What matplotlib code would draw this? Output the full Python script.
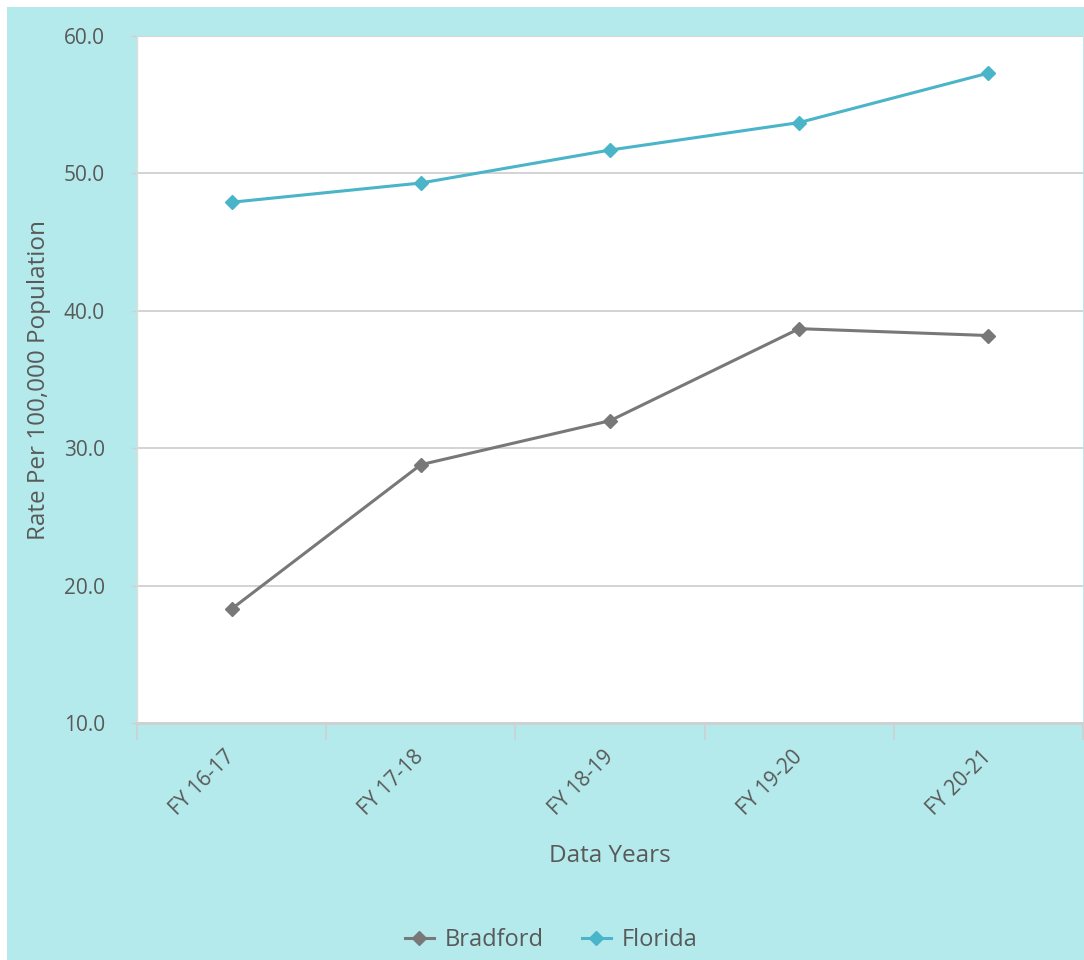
import matplotlib
matplotlib.use("Agg")
import matplotlib.pyplot as plt
from matplotlib.patches import Rectangle
import numpy as np

plt.rcParams['font.family'] = ['Open Sans', 'DejaVu Sans']

years = ["FY 16-17", "FY 17-18", "FY 18-19", "FY 19-20", "FY 20-21"]
bradford = [18.3, 28.8, 32.0, 38.7, 38.2]
florida = [47.9, 49.3, 51.7, 53.7, 57.3]
y_ticks = [10, 20, 30, 40, 50, 60]

W, H = 1084, 960
bg = "#b4eaec"
text_col = "#595959"
grid_col = "#cccccc"

fig = plt.figure(figsize=(W / 100, H / 100), dpi=100, facecolor="white")
fig.patches.append(Rectangle((7 / W, 0), 1 - 7 / W, 1 - 7 / H,
                             transform=fig.transFigure, facecolor=bg,
                             edgecolor="none", zorder=-5))

ax = fig.add_axes([137 / W, 1 - 723 / H, (1083 - 137) / W, (723 - 36) / H])
ax.set_facecolor("white")

x = np.arange(len(years))
ax.plot(x, bradford, color="#787878", lw=2.2, marker="D", ms=7.5,
        label="Bradford", zorder=3)
ax.plot(x, florida, color="#4ab4c8", lw=2.2, marker="D", ms=7.5,
        label="Florida", zorder=3)

ax.set_xlim(-0.5, len(years) - 0.5)
ax.set_ylim(10, 60)
ax.set_yticks(y_ticks)
ax.set_yticklabels([f"{v:.1f}" for v in y_ticks])
ax.yaxis.grid(True, color=grid_col, lw=1.2)
ax.set_axisbelow(True)

ax.set_xticks(x)
ax.set_xticklabels(years, rotation=45, ha="right", va="center",
                   rotation_mode="anchor")
ax.tick_params(axis="x", length=0, pad=22, labelsize=15, colors=text_col)
ax.set_xticks(np.arange(-0.5, len(years)), minor=True)
ax.tick_params(axis="x", which="minor", length=12, width=1.2,
               color="#d0d0d0", direction="out")
ax.tick_params(axis="y", length=4, width=1, color="#d0d0d0",
               labelsize=15, labelcolor=text_col, pad=19)

for side in ("top", "right"):
    ax.spines[side].set_visible(False)
ax.spines["left"].set_color("#dddddd")
ax.spines["left"].set_linewidth(1)
ax.spines["bottom"].set_color("#d0d0d0")
ax.spines["bottom"].set_linewidth(2)

ax.set_ylabel("Rate Per 100,000 Population", fontsize=17.5, color=text_col,
              labelpad=9)
ax.set_xlabel("Data Years", fontsize=17.5, color=text_col, labelpad=18)

leg = fig.legend(loc="center", bbox_to_anchor=(551 / W, 1 - 940 / H),
                 ncol=2, frameon=False, fontsize=17, handlelength=1.25,
                 columnspacing=1.6, handletextpad=0.45)
for t in leg.get_texts():
    t.set_color(text_col)

fig.savefig("out.png", dpi=100, facecolor="white")
